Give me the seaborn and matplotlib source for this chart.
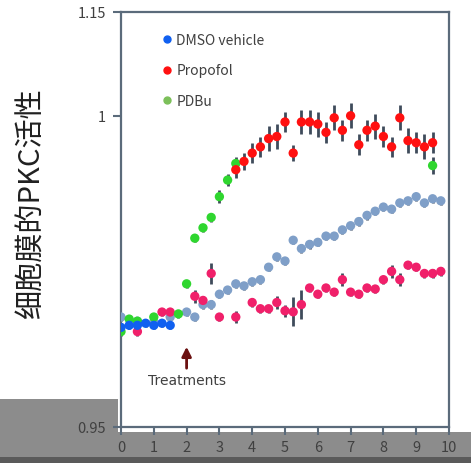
import numpy as np
import pandas as pd
import matplotlib
matplotlib.use('Agg')
import matplotlib.pyplot as plt
from matplotlib.lines import Line2D
from matplotlib.patches import Rectangle
import seaborn as sns

# ===== データ =====
dmso_x = [0, 0.25, 0.5, 0.75, 1.0, 1.25, 1.5]
dmso_y = [0.998, 0.999, 0.999, 1.000, 0.999, 1.000, 0.999]
dmso_err = [0.002, 0.002, 0.002, 0.002, 0.002, 0.002, 0.002]

propofol_x = [3.5, 3.75, 4.0, 4.25, 4.5, 4.75, 5.0, 5.25, 5.5, 5.75, 6.0, 6.25,
              6.5, 6.75, 7.0, 7.25, 7.5, 7.75, 8.0, 8.25, 8.5, 8.75, 9.0, 9.25, 9.5]
propofol_y = [1.074, 1.078, 1.082, 1.085, 1.089, 1.090, 1.097, 1.082, 1.097, 1.097,
              1.096, 1.092, 1.099, 1.093, 1.100, 1.086, 1.093, 1.095, 1.090, 1.085,
              1.099, 1.088, 1.087, 1.085, 1.087]
propofol_err = [0.004, 0.004, 0.005, 0.005, 0.006, 0.006, 0.005, 0.004, 0.006, 0.006,
                0.006, 0.005, 0.006, 0.005, 0.006, 0.005, 0.005, 0.006, 0.005, 0.005,
                0.006, 0.006, 0.005, 0.006, 0.005]

pdbu_x = [0, 0.25, 0.5, 1.0, 1.75, 2.0, 2.25, 2.5, 2.75, 3.0, 3.25, 3.5, 9.5]
pdbu_y = [0.996, 1.002, 1.001, 1.003, 1.0045, 1.019, 1.041, 1.046, 1.051, 1.061,
          1.069, 1.077, 1.076]
pdbu_err = [0.002, 0.002, 0.002, 0.002, 0.002, 0.002, 0.002, 0.002, 0.002, 0.003,
            0.003, 0.003, 0.004]

# 緩やかに上昇する系列（青灰色）
slow_x = [0, 0.5, 1.0, 1.5, 2.0, 2.25, 2.5, 2.75, 3.0, 3.25, 3.5, 3.75, 4.0, 4.25,
          4.5, 4.75, 5.0, 5.25, 5.5, 5.75, 6.0, 6.25, 6.5, 6.75, 7.0, 7.25, 7.5,
          7.75, 8.0, 8.25, 8.5, 8.75, 9.0, 9.25, 9.5, 9.75]
slow_y = [1.003, 1.001, 1.0006, 1.003, 1.0054, 1.003, 1.009, 1.009, 1.014, 1.016,
          1.019, 1.018, 1.020, 1.021, 1.027, 1.032, 1.030, 1.040, 1.036, 1.038,
          1.039, 1.042, 1.042, 1.045, 1.047, 1.049, 1.052, 1.054, 1.056, 1.055,
          1.058, 1.059, 1.061, 1.058, 1.060, 1.059]

# 低めの系列（ピンク）
low_x = [0.5, 1.25, 1.5, 2.25, 2.5, 2.75, 3.0, 3.5, 4.0, 4.25, 4.5, 4.75, 5.0,
         5.25, 5.5, 5.75, 6.0, 6.25, 6.5, 6.75, 7.0, 7.25, 7.5, 7.75, 8.0, 8.25,
         8.5, 8.75, 9.0, 9.25, 9.5, 9.75]
low_y = [0.996, 1.0054, 1.0054, 1.013, 1.011, 1.024, 1.003, 1.003, 1.010, 1.007,
         1.007, 1.010, 1.006, 1.0055, 1.009, 1.017, 1.014, 1.017, 1.015, 1.021,
         1.015, 1.014, 1.017, 1.0165, 1.021, 1.025, 1.021, 1.028, 1.027, 1.024,
         1.024, 1.025]
low_err = [0.002, 0.002, 0.002, 0.003, 0.002, 0.005, 0.002, 0.003, 0.002, 0.002,
           0.002, 0.003, 0.003, 0.007, 0.007, 0.002, 0.002, 0.002, 0.002, 0.003,
           0.002, 0.002, 0.002, 0.002, 0.002, 0.003, 0.003, 0.002, 0.002, 0.002,
           0.002, 0.002]

x_ticks = list(range(0, 11))
y_ticks = [0.95, 1.1, 1.15]
y_tick_labels = ['0.95', '1', '1.15']

# ===== 描画 =====
sns.set_style('ticks')
plt.rcParams['font.family'] = ['Noto Sans CJK SC', 'DejaVu Sans']
plt.rcParams['axes.unicode_minus'] = False

fig = plt.figure(figsize=(4.71, 4.64), dpi=100)
fig.patch.set_facecolor('white')
# 下部のグレー帯
for rect, fc in [((0, 0, 118 / 471, 64 / 464), '#8c8c8c'),
                 ((0, 0, 1, 31 / 464), '#8c8c8c'),
                 ((0, 0, 1, 6 / 464), '#5a5a5a')]:
    fig.patches.append(Rectangle(rect[:2], rect[2], rect[3], transform=fig.transFigure,
                                 facecolor=fc, edgecolor='none', zorder=-10))

ax = fig.add_axes([121 / 471, 36 / 464, 328 / 471, 415 / 464])
ax.set_zorder(5)

ebar_kw = dict(fmt='none', ecolor='#3f4b5b', elinewidth=2.0, capsize=0, zorder=2)
ax.errorbar(slow_x, slow_y, yerr=0.002, **ebar_kw)
ax.errorbar(low_x, low_y, yerr=low_err, **ebar_kw)
ax.errorbar(pdbu_x, pdbu_y, yerr=pdbu_err, **ebar_kw)
ax.errorbar(propofol_x, propofol_y, yerr=propofol_err, **ebar_kw)
ax.errorbar(dmso_x, dmso_y, yerr=dmso_err, **ebar_kw)

series = [
    (slow_x, slow_y, '#7f9fc8'),
    (low_x, low_y, '#f0206a'),
    (pdbu_x, pdbu_y, '#2fd62f'),
    (propofol_x, propofol_y, '#ff1010'),
    (dmso_x, dmso_y, '#1060f0'),
]
for xs, ys, c in series:
    df = pd.DataFrame({'x': xs, 'y': ys})
    sns.scatterplot(data=df, x='x', y='y', ax=ax, color=c, s=45,
                    edgecolor='none', zorder=3)

ax.set_xlim(0, 10)
ax.set_ylim(0.95, 1.15)
ax.set_xticks(x_ticks)
ax.set_yticks(y_ticks)
ax.set_yticklabels(y_tick_labels)
ax.tick_params(axis='both', labelsize=10.5, colors='#5b6b7b', labelcolor='#404040',
               length=6, width=1.5, direction='out')
ax.tick_params(axis='y', pad=5)
for s in ax.spines.values():
    s.set_color('#5b6b7b')
    s.set_linewidth(1.6)

ax.set_xlabel('')
ax.set_ylabel('细胞膜的PKC活性', fontsize=21, color='#202020')
ax.yaxis.set_label_coords(-0.225, 0.54)

# 処理タイミングの矢印
ax.annotate('', xy=(2.0, 0.990), xytext=(2.0, 0.977),
            arrowprops=dict(arrowstyle='-|>', color='#6b1010', lw=2, mutation_scale=14))
ax.text(2.0, 0.9725, 'Treatments', ha='center', va='center', fontsize=10,
        color='#404040', family=['DejaVu Sans'])

handles = [
    Line2D([], [], marker='o', ls='none', color='#1060f0', markersize=5),
    Line2D([], [], marker='o', ls='none', color='#ff1010', markersize=5),
    Line2D([], [], marker='o', ls='none', color='#7cc05a', markersize=5),
]
ax.legend(handles, ['DMSO vehicle', 'Propofol', 'PDBu'], loc='upper left',
          bbox_to_anchor=(0.08, 0.98), frameon=False, fontsize=10,
          labelspacing=1.2, handletextpad=0.2, handlelength=1.0,
          labelcolor='#404040')

fig.savefig('out.png', dpi=100)
plt.close(fig)
